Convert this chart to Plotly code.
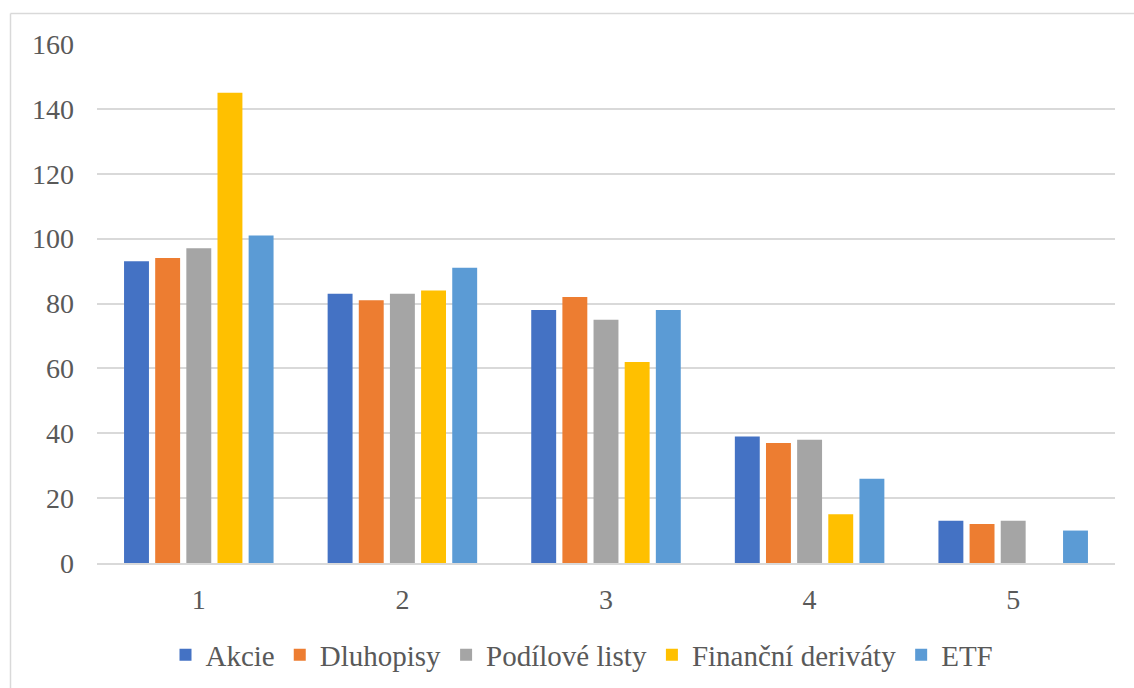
import plotly.graph_objects as go

categories = ["1", "2", "3", "4", "5"]
series_names = ["Akcie", "Dluhopisy", "Podílové listy", "Finanční deriváty", "ETF"]
akcie = [93, 83, 78, 39, 13]
dluhopisy = [94, 81, 82, 37, 12]
podilove = [97, 83, 75, 38, 13]
financni = [145, 84, 62, 15, 0]
etf = [101, 91, 78, 26, 10]
colors = ["#4472C4", "#ED7D31", "#A5A5A5", "#FFC000", "#5B9BD5"]

values = [akcie, dluhopisy, podilove, financni, etf]

fig = go.Figure()
for name, vals, col in zip(series_names, values, colors):
    fig.add_trace(go.Bar(x=categories, y=vals, name=name, marker=dict(color=col, line=dict(width=0))))

W, H = 1134, 688
L, R, T, B = 97, 19, 44, 125
pw, ph = W - L - R, H - T - B

def px_x(x):
    return (x - L) / pw

def px_y(y):
    return (H - B - y) / ph

font = "Liberation Serif"
fig.update_layout(
    width=W, height=H,
    margin=dict(l=L, r=R, t=T, b=B, autoexpand=False),
    paper_bgcolor="white", plot_bgcolor="white",
    barmode="group", bargap=0.235, bargroupgap=0.2,
    font=dict(family=font, size=28, color="#595959"),
    legend=dict(orientation="h", x=px_x(582), xanchor="center", y=px_y(655), yanchor="middle",
                font=dict(family=font, size=29, color="#595959"), itemwidth=30,
                traceorder="normal"),
    yaxis=dict(range=[0, 160], dtick=20, showgrid=True, gridcolor="#D9D9D9", gridwidth=1.5,
               zeroline=False, showline=False, ticks="", ticklabelstandoff=22,
               tickfont=dict(family=font, size=28, color="#595959")),
    xaxis=dict(showline=True, linecolor="#D9D9D9", linewidth=1.5, ticks="", ticklabelstandoff=11,
               tickfont=dict(family=font, size=28, color="#595959")),
    shapes=[
        dict(type="line", xref="paper", yref="paper", x0=px_x(10.5), x1=px_x(1134), y0=px_y(13.5), y1=px_y(13.5),
             line=dict(color="#D9D9D9", width=1.5)),
        dict(type="line", xref="paper", yref="paper", x0=px_x(10.5), x1=px_x(10.5), y0=px_y(13.5), y1=px_y(688),
             line=dict(color="#D9D9D9", width=1.5)),
    ],
)

fig.write_html("out.html", config={"displayModeBar": False},
               post_script="document.body.style.margin='0';document.body.style.overflow='hidden';")
